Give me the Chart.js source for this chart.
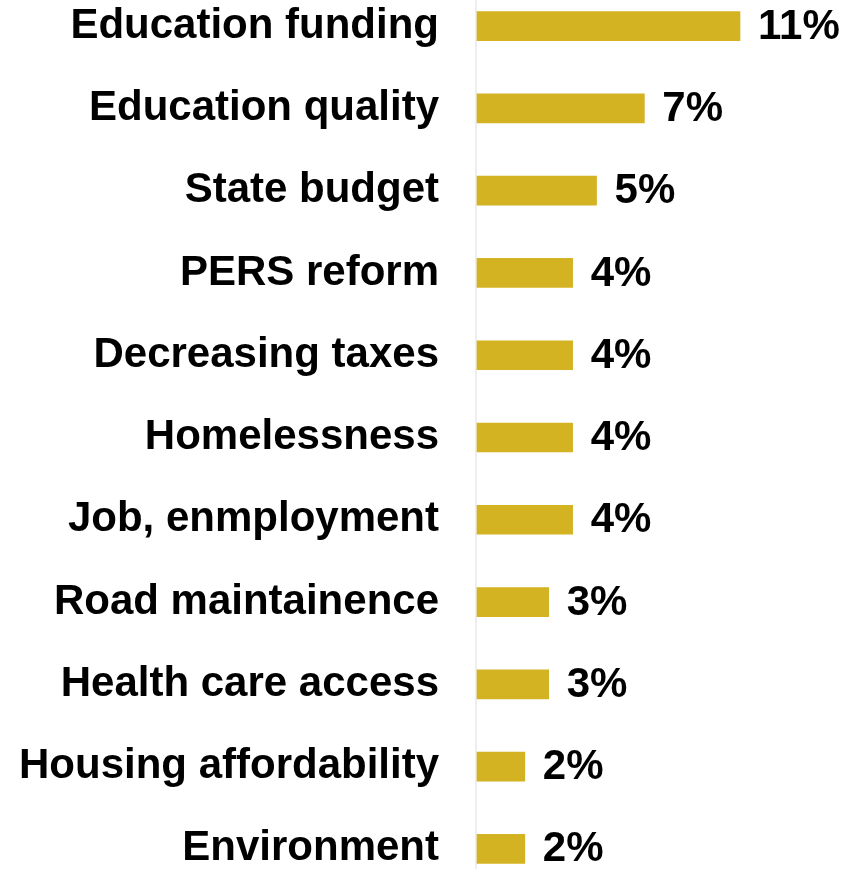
<!DOCTYPE html>
<html>
<head>
<meta charset="utf-8">
<script src="https://cdn.jsdelivr.net/npm/chart.js@4.4.1/dist/chart.umd.min.js"></script>
<style>
  html, body { margin: 0; padding: 0; background: #ffffff; overflow: hidden; }
  #frame { width: 844px; height: 869px; position: relative; overflow: hidden; }
  #wrap { width: 844px; height: 905px; position: absolute; left: 0; top: -15px; }
</style>
</head>
<body>
<div id="frame"><div id="wrap"><canvas id="chart"></canvas></div></div>
<script>
// Top issues, share of respondents (%)
const categories = [
  "Education funding",
  "Education quality",
  "State budget",
  "PERS reform",
  "Decreasing taxes",
  "Homelessness",
  "Job, enmployment",
  "Road maintainence",
  "Health care access",
  "Housing affordability",
  "Environment"
];
const shares = [11, 7, 5, 4, 4, 4, 4, 3, 3, 2, 2];
const valueLabels = ["11%", "7%", "5%", "4%", "4%", "4%", "4%", "3%", "3%", "2%", "2%"];

const FONT = "'Liberation Sans', Arial, sans-serif";

// Light baseline at zero running the full height of the canvas
const baseline = {
  id: 'baseline',
  beforeDatasetsDraw(chart) {
    const { ctx } = chart;
    const x = chart.scales.x.getPixelForValue(0) - 1;
    ctx.save();
    ctx.strokeStyle = '#eeeeee';
    ctx.lineWidth = 2;
    ctx.beginPath();
    ctx.moveTo(x, 0);
    ctx.lineTo(x, chart.height);
    ctx.stroke();
    ctx.restore();
  }
};

// Percentage labels at the end of each bar
const endLabels = {
  id: 'endLabels',
  afterDatasetsDraw(chart) {
    const { ctx } = chart;
    const meta = chart.getDatasetMeta(0);
    ctx.save();
    ctx.fillStyle = '#000000';
    ctx.font = "bold 42px " + FONT;
    ctx.textAlign = 'left';
    ctx.textBaseline = 'middle';
    meta.data.forEach((bar, i) => {
      ctx.fillText(valueLabels[i], bar.x + 18, bar.y + 1);
    });
    ctx.restore();
  }
};

new Chart(document.getElementById('chart'), {
  type: 'bar',
  data: {
    labels: categories,
    datasets: [{
      data: shares,
      backgroundColor: '#d4b322',
      borderWidth: 0,
      barThickness: 29,
      clip: false
    }]
  },
  options: {
    indexAxis: 'y',
    responsive: true,
    maintainAspectRatio: false,
    animation: false,
    layout: { padding: 0 },
    plugins: {
      legend: { display: false },
      tooltip: { enabled: false }
    },
    scales: {
      x: {
        display: false,
        min: 0,
        max: 15.35
      },
      y: {
        offset: true,
        grid: { display: false, drawTicks: false },
        border: { display: false },
        ticks: {
          color: '#000000',
          padding: 38,
          autoSkip: false,
          font: { family: FONT, size: 42, weight: 'bold' }
        },
        afterFit(scale) {
          scale.width = 477;
          scale.paddingTop = 0;
          scale.paddingBottom = 0;
        }
      }
    }
  },
  plugins: [baseline, endLabels]
});
</script>
</body>
</html>
